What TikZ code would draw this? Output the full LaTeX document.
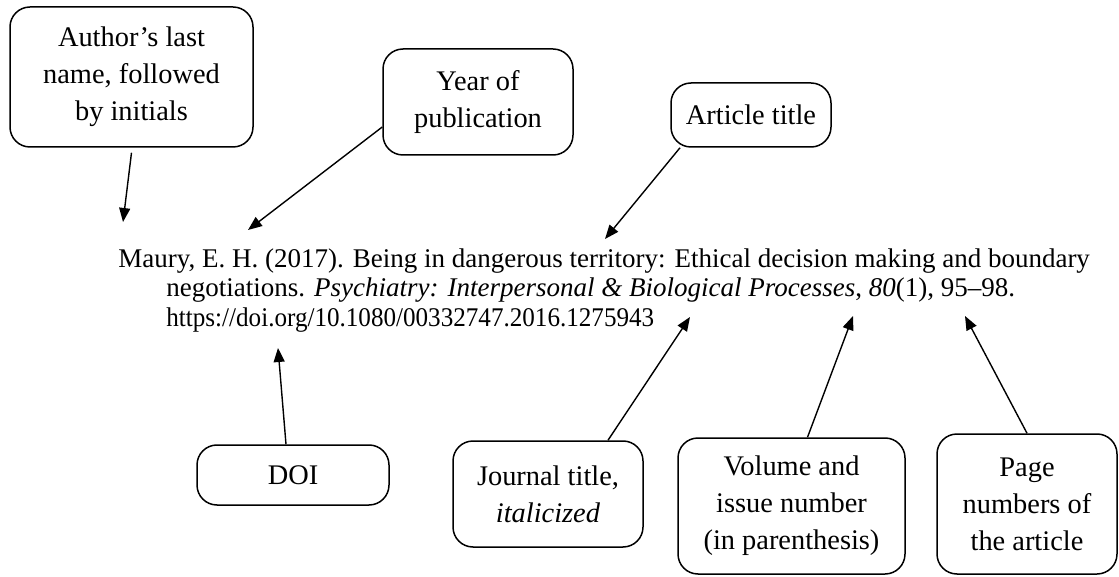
\documentclass[tikz,border=0pt]{standalone}
\usepackage{fontspec}
\setmainfont{Liberation Serif}
\usetikzlibrary{arrows.meta}

\begin{document}
\begin{tikzpicture}[x=0.5pt,y=-0.5pt,
    callout/.style={draw=black,line width=0.75pt,rounded corners=10pt,align=center,
      inner sep=0pt,font=\fontsize{14.2}{18.5}\selectfont},
    refline/.style={anchor=base west,inner sep=0pt,font=\fontsize{13.5}{15}\selectfont},
    pointer/.style={draw=black,line width=0.7pt,-{Triangle[length=7pt,width=5.5pt]}}]
  \useasboundingbox (0,0) rectangle (1119,577);

  % the reference itself
  \node[refline] (line1) at (118,268) {Maury, E. H. (2017). Being in dangerous territory: Ethical decision making and boundary};
  \node[refline] (line2) at (166,297) {negotiations. \textit{Psychiatry: Interpersonal \& Biological Processes}, \textit{80}(1), 95--98.};
  \node[refline] (line3) at (166,327) {\scalebox{0.93}[1]{https://doi.org/10.1080/00332747.2016.1275943}};

  % callout boxes
  \node[callout,minimum width=121.5pt,minimum height=70pt] (author) at (131.5,77) {Author's last\\ name, followed\\ by initials};
  \node[callout,minimum width=95pt,minimum height=53pt] (year) at (478,102) {Year of\\ publication};
  \node[callout,minimum width=80pt,minimum height=32pt] (article) at (751,115) {Article title};
  \node[callout,minimum width=96pt,minimum height=30pt] (doi) at (293,475) {DOI};
  \node[callout,minimum width=95pt,minimum height=53pt] (journal) at (548,494) {Journal title,\\ \textit{italicized}};
  \node[callout,minimum width=113.5pt,minimum height=68pt] (volume) at (791.5,506) {Volume and\\ issue number\\ (in parenthesis)};
  \node[callout,minimum width=90pt,minimum height=70pt] (page) at (1027,504) {Page\\ numbers of\\ the article};

  % where the arrows point
  \coordinate (authortip) at (123,222);
  \coordinate (yeartip) at (248,230);
  \coordinate (articletip) at (605,239);
  \coordinate (doitip) at (278,348);
  \coordinate (journaltip) at (690,317);
  \coordinate (volumetip) at (853,316);
  \coordinate (pagetip) at (965,316);

  \draw[pointer] ([yshift=-2.5pt]author.south) -- (authortip);
  \draw[pointer] ([yshift=-12.5pt]year.west) -- (yeartip);
  \draw[pointer] ([xshift=-35.5pt]article.south) -- (articletip);
  \draw[pointer] ([xshift=-3.5pt]doi.north) -- (doitip);
  \draw[pointer] ([xshift=30pt]journal.north) -- (journaltip);
  \draw[pointer] ([xshift=8pt]volume.north) -- (volumetip);
  \draw[pointer] (page.north) -- (pagetip);
\end{tikzpicture}
\end{document}
